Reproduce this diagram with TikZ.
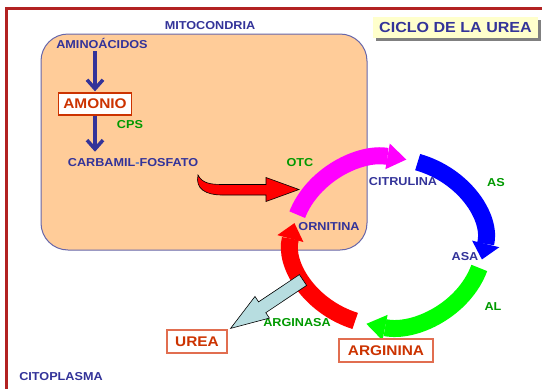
\documentclass[tikz,border=0pt]{standalone}
\usepackage{fontspec}
\setmainfont{Liberation Sans}[FakeStretch=1.1]
\usetikzlibrary{arrows.meta, shadows, calc}
\definecolor{ink}{RGB}{51,51,153}
\definecolor{enzgreen}{RGB}{0,153,0}
\definecolor{rust}{RGB}{204,51,0}
\definecolor{salmon}{RGB}{225,110,80}
\definecolor{peach}{RGB}{255,204,153}
\definecolor{mitoline}{RGB}{102,102,170}
\definecolor{framered}{RGB}{178,34,34}
\definecolor{paleyellow}{RGB}{255,255,204}
\definecolor{paleblue}{RGB}{183,221,224}
\definecolor{hyph}{RGB}{51,102,204}
\definecolor{bandmag}{RGB}{255,0,255}
\definecolor{bandblue}{RGB}{0,0,255}
\definecolor{bandgreen}{RGB}{0,255,0}
\definecolor{bandred}{RGB}{255,0,0}
\tikzset{
    lbl/.style={text=ink, font=\bfseries\fontsize{11.5}{13}\selectfont, inner sep=1pt},
    enz/.style={text=enzgreen, font=\bfseries\fontsize{11.5}{13}\selectfont, inner sep=1pt},
    cmpd/.style={draw=salmon, line width=1.2pt, fill=white, text=rust, font=\bfseries\fontsize{14}{16}\selectfont, minimum height=23pt, inner sep=0pt},
    band/.style={line width=17pt},
    flow/.style={draw=ink, line width=3.5pt, -{Straight Barb[length=9pt,width=16pt]}}
}

\begin{document}
\begin{tikzpicture}[x=1pt, y=-1pt]
    \useasboundingbox (0,0) rectangle (542,389);
    % frame
    \draw[framered, line width=2.6pt] (6.3,389) -- (6.3,8.5) -- (542,8.5);

    % mitochondria
    \draw[mitoline, line width=1pt, fill=peach, rounded corners=27pt] (41,34) rectangle (367,250);
    \node[lbl] (mito) at (210,26) {MITOCONDRIA};
    \node[lbl] (cito) at (61,377) {CITOPLASMA};

    % title
    \node[fill=paleyellow, text=ink, font=\bfseries\fontsize{14.6}{17}\selectfont,
          minimum width=165pt, minimum height=21pt, inner sep=0pt,
          drop shadow={shadow xshift=3pt, shadow yshift=-3pt, fill=gray, opacity=1}]
          (title) at (455.5,27.5) {CICLO DE LA UREA};

    % inside the mitochondria
    \node[lbl] (amino) at (102,43) {AMINOÁCIDOS};
    \node[cmpd, draw=rust, minimum width=73pt, minimum height=22pt] (amonio) at (95,104) {AMONIO};
    \node[enz] (cps) at (130,125) {CPS};
    \node[lbl] (carbamil) at (133,163) {CARBAMIL{\color{hyph}-}FOSFATO};
    \node[enz] (otc) at (300,163) {OTC};
    \draw[flow, shorten <=2pt, shorten >=1pt] (amino.south -| amonio.north) -- (amonio.north);
    \draw[flow, shorten >=6pt] (amonio.south) -- (amonio.south |- carbamil.north);

    % carbamil-fosfato into the cycle
    \draw[black, line width=0.6pt, fill=bandred]
        (198,175) .. controls (202,183) and (210,184.5) .. (222,184.5) -- (266,184.5)
        -- (266,177.5) -- (299,189.5) -- (266,201.5) -- (266,195) -- (222,195)
        .. controls (206,195) and (195,189) .. (198,175) -- cycle;

    % cycle
    \coordinate (cyc) at (388,242);
    \draw[band, bandmag, -{Triangle[length=19pt,width=26pt,line width=0pt]}]
        ($(cyc)+(-161:96 and 84)$) arc[start angle=-161, end angle=-79, x radius=96, y radius=84];
    \draw[band, bandblue, -{Triangle[length=16pt,width=28pt,line width=0pt]}]
        ($(cyc)+(-72:96 and 84)$) arc[start angle=-72, end angle=12, x radius=96, y radius=84];
    \draw[band, bandgreen, -{Triangle[length=19pt,width=26pt,line width=0pt]}]
        ($(cyc)+(18:96 and 84)$) arc[start angle=18, end angle=103, x radius=96, y radius=84];
    \draw[band, bandred, -{Triangle[length=16pt,width=27pt,line width=0pt]}]
        ($(cyc)+(110:96 and 84)$) arc[start angle=110, end angle=193, x radius=96, y radius=84];

    \node[lbl] (citrulina) at (403,182) {CITRULINA};
    \node[enz] (enzAS) at (496,183) {AS};
    \node[lbl] (ornitina) at (329,227) {ORNITINA};
    \node[lbl] (asa) at (465,257) {ASA};
    \node[enz] (enzAL) at (493,307) {AL};
    \node[enz] (arginasa) at (297,323) {ARGINASA};
    \node[cmpd, minimum width=60pt] (urea) at (197,341.5) {UREA};
    \node[cmpd, minimum width=94pt] (arginina) at (386,350.5) {ARGININA};

    % urea leaves the cycle
    \coordinate (ureatail) at (303,280);
    \coordinate (ureatip) at ($(urea.north east)+(3,-1)$);
    \coordinate (ureahead) at ($(ureatip)!38pt!(ureatail)$);
    \draw[black, line width=0.6pt, fill=paleblue]
        ($(ureatail)!6.5pt!90:(ureatip)$) -- ($(ureahead)!6.5pt!90:(ureatip)$)
        -- ($(ureahead)!13pt!90:(ureatip)$) -- (ureatip)
        -- ($(ureahead)!13pt!-90:(ureatip)$) -- ($(ureahead)!6.5pt!-90:(ureatip)$)
        -- ($(ureatail)!6.5pt!-90:(ureatip)$) -- cycle;
\end{tikzpicture}
\end{document}
